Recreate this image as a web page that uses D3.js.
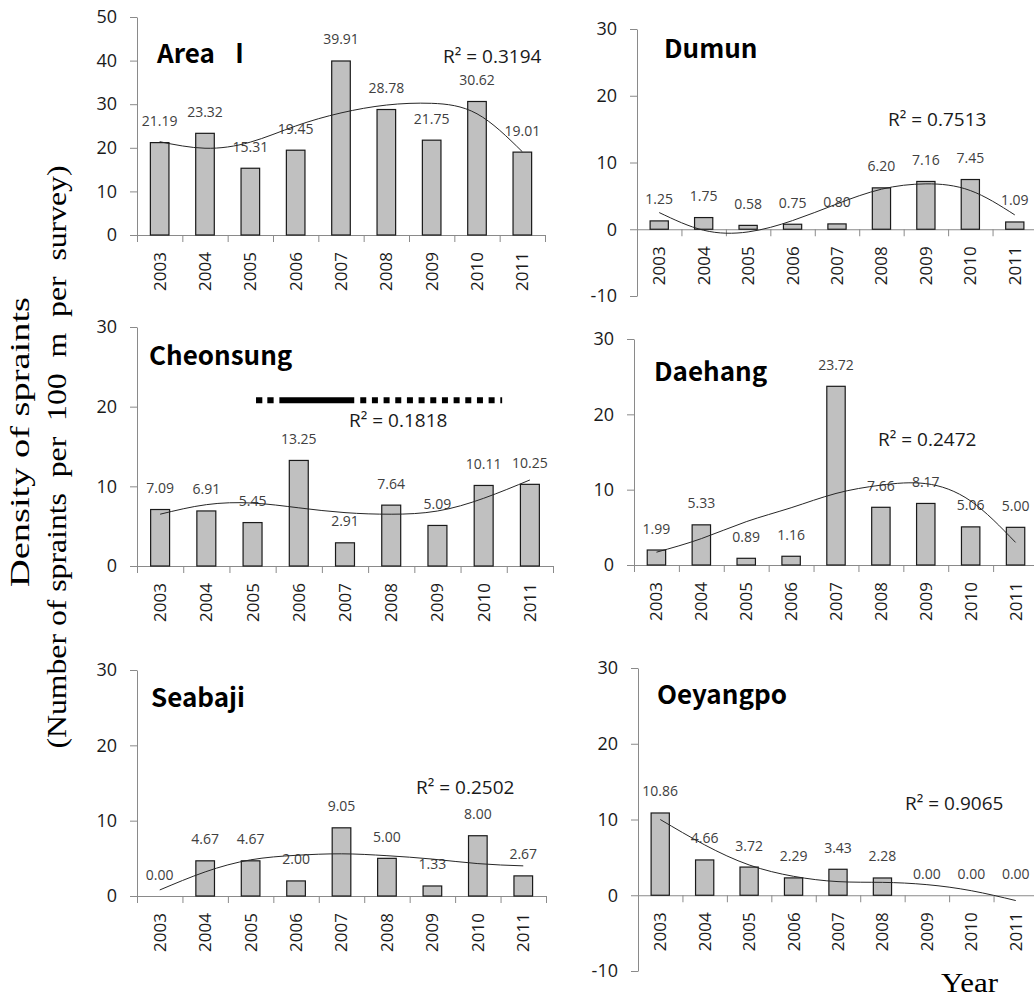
<!DOCTYPE html>
<html><head><meta charset="utf-8">
<script src="https://cdn.jsdelivr.net/npm/d3@7"></script>
<style>body{margin:0;background:#fff}svg{display:block}</style></head>
<body>
<svg id="chart" width="1034" height="1005"></svg>
<script>
// ---- data ----
const years = ["2003","2004","2005","2006","2007","2008","2009","2010","2011"];

const valuesAreaI     = [21.19, 23.32, 15.31, 19.45, 39.91, 28.78, 21.75, 30.62, 19.01];
const valuesDumun     = [1.25, 1.75, 0.58, 0.75, 0.80, 6.20, 7.16, 7.45, 1.09];
const valuesCheonsung = [7.09, 6.91, 5.45, 13.25, 2.91, 7.64, 5.09, 10.11, 10.25];
const valuesDaehang   = [1.99, 5.33, 0.89, 1.16, 23.72, 7.66, 8.17, 5.06, 5.00];
const valuesSeabaji   = [0.00, 4.67, 4.67, 2.00, 9.05, 5.00, 1.33, 8.00, 2.67];
const valuesOeyangpo  = [10.86, 4.66, 3.72, 2.29, 3.43, 2.28, 0.00, 0.00, 0.00];

// trend-line values at each year
const trendAreaI     = [21.4, 19.9, 21.3, 25.0, 28.0, 29.8, 30.2, 27.8, 19.1];
const trendDumun     = [2.5, -0.15, -0.4, 1.3, 3.8, 6.0, 6.8, 5.8, 2.15];
const trendCheonsung = [6.5, 7.7, 7.9, 7.3, 6.7, 6.5, 6.9, 8.5, 10.8];
const trendDaehang   = [1.7, 3.5, 5.75, 7.6, 9.5, 10.6, 10.8, 8.5, 3.0];
const trendSeabaji   = [0.8, 3.2, 4.8, 5.4, 5.6, 5.35, 4.9, 4.3, 4.0];
const trendOeyangpo  = [10.0, 6.65, 4.0, 2.5, 1.8, 1.7, 1.4, 0.6, -0.7];

const titles = ["Area  \u2160", "Dumun", "Cheonsung", "Daehang", "Seabaji", "Oeyangpo"];
const r2Labels = ["R\u00B2 = 0.3194", "R\u00B2 = 0.7513", "R\u00B2 = 0.1818", "R\u00B2 = 0.2472", "R\u00B2 = 0.2502", "R\u00B2 = 0.9065"];
const ticks0to50 = [0, 10, 20, 30, 40, 50];
const ticks0to30 = [0, 10, 20, 30];
const ticksM10to30 = [-10, 0, 10, 20, 30];
const yTitleLines = ["Density of spraints", "(Number of spraints  per  100  m  per  survey)"];
const xTitle = "Year";

// ---- layout ----
const panels = [
  {title: titles[0], values: valuesAreaI, trend: trendAreaI, r2: r2Labels[0], domain: [0, 50], ticks: ticks0to50,
   x0: 137, x1: 545, yTop: 17, yBot: 235, tx: 157, ty: 63, rx: 443, ry: 63},
  {title: titles[1], values: valuesDumun, trend: trendDumun, r2: r2Labels[1], domain: [-10, 30], ticks: ticksM10to30,
   x0: 637, x1: 1037, yTop: 29, yBot: 296, tx: 664, ty: 58, rx: 888, ry: 126},
  {title: titles[2], values: valuesCheonsung, trend: trendCheonsung, r2: r2Labels[2], domain: [0, 30], ticks: ticks0to30,
   x0: 137, x1: 553, yTop: 327, yBot: 566, tx: 149, ty: 365, rx: 349, ry: 427, dash: true},
  {title: titles[3], values: valuesDaehang, trend: trendDaehang, r2: r2Labels[3], domain: [0, 30], ticks: ticks0to30,
   x0: 634, x1: 1038, yTop: 339, yBot: 565, tx: 654, ty: 381, rx: 878, ry: 446},
  {title: titles[4], values: valuesSeabaji, trend: trendSeabaji, r2: r2Labels[4], domain: [0, 30], ticks: ticks0to30,
   x0: 137, x1: 546, yTop: 670, yBot: 896, tx: 151, ty: 707, rx: 416, ry: 794},
  {title: titles[5], values: valuesOeyangpo, trend: trendOeyangpo, r2: r2Labels[5], domain: [-10, 30], ticks: ticksM10to30,
   x0: 638, x1: 1038, yTop: 668, yBot: 971, tx: 657, ty: 704, rx: 905, ry: 810}
];

const NUM_FONT = "'Open Sans','Noto Sans',sans-serif";
const TITLE_FONT = "'Noto Sans CJK KR','Noto Sans',sans-serif";
const SERIF = "'Liberation Serif','DejaVu Serif',serif";
const AXIS_COLOR = "#8a8a8a";

const svg = d3.select("#chart");

panels.forEach(p => {
  const g = svg.append("g");
  const y = d3.scaleLinear().domain([p.domain[1], p.domain[0]]).range([p.yTop, p.yBot]);
  const xb = d3.scaleBand().domain(years).range([p.x0, p.x1]).padding(0);
  const xi = d3.scaleLinear().domain([0, years.length]).range([p.x0, p.x1]);
  const y0 = y(0);
  const barW = xb.bandwidth() * 0.41;

  // y axis
  const ya = g.append("g").attr("transform", `translate(${p.x0},0)`)
    .call(d3.axisLeft(y).tickValues(p.ticks).tickSize(7).tickSizeOuter(0).tickPadding(13).tickFormat(d => String(d)));
  ya.select(".domain").attr("stroke", AXIS_COLOR);
  ya.selectAll(".tick line").attr("stroke", AXIS_COLOR);
  ya.selectAll(".tick text").attr("font-family", NUM_FONT).attr("font-size", 18).attr("fill", "#1a1a1a");

  // x axis (ticks at band boundaries)
  const xa = g.append("g").attr("transform", `translate(0,${y0})`)
    .call(d3.axisBottom(xi).tickValues(d3.range(years.length + 1)).tickSize(7).tickSizeOuter(0).tickFormat(""));
  xa.select(".domain").attr("stroke", AXIS_COLOR);
  xa.selectAll(".tick line").attr("stroke", AXIS_COLOR);

  // year labels
  g.selectAll(".yr").data(years).join("text")
    .attr("transform", d => `translate(${xb(d) + xb.bandwidth() / 2},${y0 + 17}) rotate(-90)`)
    .attr("text-anchor", "end").attr("dy", "0.35em")
    .attr("font-family", NUM_FONT).attr("font-size", 17).attr("fill", "#1a1a1a")
    .text(d => d);

  // bars
  const rows = years.map((yr, i) => ({yr, v: p.values[i], t: p.trend[i]}));
  g.selectAll(".bar").data(rows.filter(d => d.v > 0)).join("rect")
    .attr("x", d => xb(d.yr) + (xb.bandwidth() - barW) / 2)
    .attr("y", d => y(d.v))
    .attr("width", barW)
    .attr("height", d => y0 - y(d.v))
    .attr("fill", "#c0c0c0").attr("stroke", "#1a1a1a").attr("stroke-width", 1.2);

  // value labels
  g.selectAll(".lbl").data(rows).join("text")
    .attr("x", d => xb(d.yr) + xb.bandwidth() / 2)
    .attr("y", d => y(d.v) - 16.5)
    .attr("text-anchor", "middle")
    .attr("font-family", NUM_FONT).attr("font-size", 14).attr("fill", "#404040")
    .text(d => d3.format(".2f")(d.v));

  // trend line
  const line = d3.line().x(d => xb(d.yr) + xb.bandwidth() / 2).y(d => y(d.t)).curve(d3.curveNatural);
  g.append("path").datum(rows).attr("d", line)
    .attr("fill", "none").attr("stroke", "#262626").attr("stroke-width", 1);

  // title
  g.append("text").attr("x", p.tx).attr("y", p.ty)
    .attr("font-family", TITLE_FONT).attr("font-weight", 700).attr("font-size", 26).attr("fill", "#000")
    .style("white-space", "pre")
    .text(p.title);

  // R²
  g.append("text").attr("x", p.rx).attr("y", p.ry)
    .attr("font-family", NUM_FONT).attr("font-size", 19).attr("fill", "#1a1a1a")
    .style("white-space", "pre")
    .text(p.r2);

  // dashed annotation in Cheonsung panel
  if (p.dash) {
    const dy = y(20.8);
    const segs = [
      {a: 2.575, b: 2.965, dash: "6.3,5"},
      {a: 3.08, b: 4.70, dash: null},
      {a: 4.83, b: 7.90, dash: "6,5.67"}
    ];
    segs.forEach(s => {
      g.append("line").attr("x1", xi(s.a)).attr("x2", xi(s.b)).attr("y1", dy).attr("y2", dy)
        .attr("stroke", "#000").attr("stroke-width", 6)
        .attr("stroke-dasharray", s.dash);
    });
  }
});

// axis titles
svg.append("text").attr("transform", "translate(29,442) rotate(-90)")
  .attr("text-anchor", "middle").attr("font-family", SERIF).attr("font-size", 27)
  .attr("textLength", 290).attr("lengthAdjust", "spacingAndGlyphs")
  .text(yTitleLines[0]);
svg.append("text").attr("transform", "translate(66,457) rotate(-90)")
  .attr("text-anchor", "middle").attr("font-family", SERIF).attr("font-size", 27)
  .attr("textLength", 583).attr("lengthAdjust", "spacingAndGlyphs")
  .style("white-space", "pre")
  .text(yTitleLines[1]);
svg.append("text").attr("x", 941).attr("y", 992)
  .attr("font-family", SERIF).attr("font-size", 27)
  .attr("textLength", 57).attr("lengthAdjust", "spacingAndGlyphs")
  .text(xTitle);
</script>
</body></html>
